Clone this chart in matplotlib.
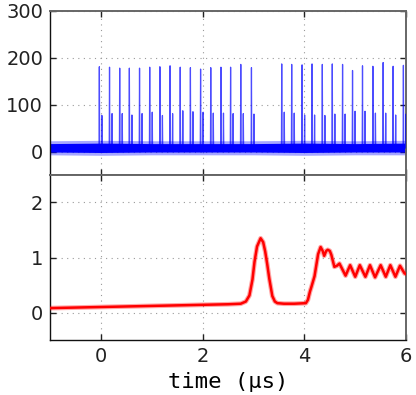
import matplotlib
matplotlib.use("Agg")
import matplotlib.pyplot as plt
import numpy as np

# ---- data ----
spike_times = [-0.03, 0.17, 0.37, 0.56, 0.76, 0.96, 1.16, 1.36, 1.56, 1.76, 1.96,
               2.16, 2.36, 2.55, 2.75, 2.96,
               3.555, 3.751, 3.955, 4.151, 4.353, 4.549, 4.751, 4.947, 5.143,
               5.347, 5.549, 5.745, 5.947]
spike_main = [181, 180, 178, 178, 178, 180, 181, 183, 180, 179, 176, 179, 180, 180, 186, 179,
              187, 186, 185, 187, 186, 187, 186, 173, 183, 182, 190, 182, 184]
spike_second = [77, 81, 81, 78, 81, 84, 77, 81, 87, 85, 84, 82, 82, 81, 81, 80,
                84, 82, 78, 78, 77, 80, 80, 86, 86, 82, 82, 78, 80]
spike_offset = 0.05
noise_t = [-1.0, 0.0, 1.0, 2.0, 3.0, 4.0, 5.0, 6.0]
noise_lo = [-1, -2, -1, -1, -1, -2, -1, -1]
noise_hi = [17, 18, 17, 17, 17, 18, 17, 18]
noise_lo_outer = [-7, -8, -7, -7, -7, -8, -7, -7]
noise_hi_outer = [23, 24, 23, 23, 23, 24, 23, 24]
baseline = 8

red_t = [-1.0, 0.0, 1.0, 2.0, 2.5, 2.75, 2.85, 2.92, 2.98, 3.02, 3.07, 3.14, 3.19,
         3.23, 3.27, 3.31, 3.37, 3.42, 3.47, 3.6, 3.8, 4.03, 4.07, 4.11, 4.14, 4.2,
         4.27, 4.32, 4.36, 4.39, 4.43, 4.46, 4.5, 4.53, 4.59, 4.64, 4.69, 4.75, 4.81,
         4.9, 5.0, 5.09, 5.2, 5.29, 5.39, 5.5, 5.6, 5.69, 5.79, 5.88, 5.97, 6.0]
red_v = [0.08, 0.10, 0.12, 0.14, 0.15, 0.16, 0.2, 0.31, 0.6, 0.92, 1.2, 1.35, 1.28,
         1.11, 0.88, 0.62, 0.3, 0.2, 0.17, 0.16, 0.16, 0.17, 0.23, 0.38, 0.47, 0.66,
         1.06, 1.19, 1.12, 1.03, 1.12, 1.14, 1.12, 1.05, 0.83, 0.85, 0.89, 0.78, 0.67,
         0.86, 0.65, 0.86, 0.65, 0.86, 0.64, 0.86, 0.65, 0.86, 0.65, 0.85, 0.71, 0.70]

x_ticks = [0, 2, 4, 6]
top_yticks = [0, 100, 200, 300]
bot_yticks = [0, 1, 2]

# ---- figure ----
plt.rcParams['font.family'] = ['DejaVu Sans']
fig = plt.figure(figsize=(4.16, 3.95), dpi=100)
ax1 = fig.add_axes([0.1202, 0.557, 0.856, 0.4152])
ax2 = fig.add_axes([0.1202, 0.1392, 0.856, 0.4178])

grid_kw = dict(color='#999999', linestyle=(0, (1, 4)), linewidth=0.8)

# blue trace: noise band + spikes built from spike data
ax1.fill_between(noise_t, noise_lo_outer, noise_hi_outer, color='#0000ff', alpha=0.35,
                 linewidth=0, zorder=2)
ax1.fill_between(noise_t, noise_lo, noise_hi, color='#0000ff', linewidth=0, zorder=2)
bx, by = [], []
for s, h1, h2 in zip(spike_times, spike_main, spike_second):
    bx += [s - 0.006, s, s + 0.006, s + spike_offset - 0.006, s + spike_offset,
           s + spike_offset + 0.006, np.nan]
    by += [baseline, h1, baseline, baseline, h2, baseline, np.nan]
ax1.plot(bx, by, color='#0000ff', linewidth=0.9, alpha=0.7, zorder=3)

ax2.plot(red_t, red_v, color='#ff0000', linewidth=3.4, alpha=0.35,
         solid_joinstyle='round', zorder=3)
ax2.plot(red_t, red_v, color='#ff0000', linewidth=1.8, solid_joinstyle='round', zorder=3)

for ax in (ax1, ax2):
    ax.set_xlim(-1, 6)
    ax.set_xticks(x_ticks)
    ax.grid(True, **grid_kw)
    ax.set_axisbelow(True)
    ax.tick_params(direction='in', length=4, width=1, top=True, right=True,
                   labelsize=14, colors='#222222', pad=5)
    for side in ('top', 'right'):
        ax.spines[side].set_color('#666666')
        ax.spines[side].set_linewidth(1.4)
    for side in ('left', 'bottom'):
        ax.spines[side].set_color('#111111')
        ax.spines[side].set_linewidth(1.0)

ax1.set_ylim(-50, 300)
ax1.set_yticks(top_yticks)
ax1.tick_params(labelbottom=False)
ax1.spines['bottom'].set_color('#444444')
ax1.spines['bottom'].set_linewidth(1.4)

ax2.set_ylim(-0.5, 2.5)
ax2.set_yticks(bot_yticks)
ax2.set_xlabel('time (µs)', family='DejaVu Sans Mono', fontsize=16, labelpad=4)

fig.savefig('out.png', dpi=100)
